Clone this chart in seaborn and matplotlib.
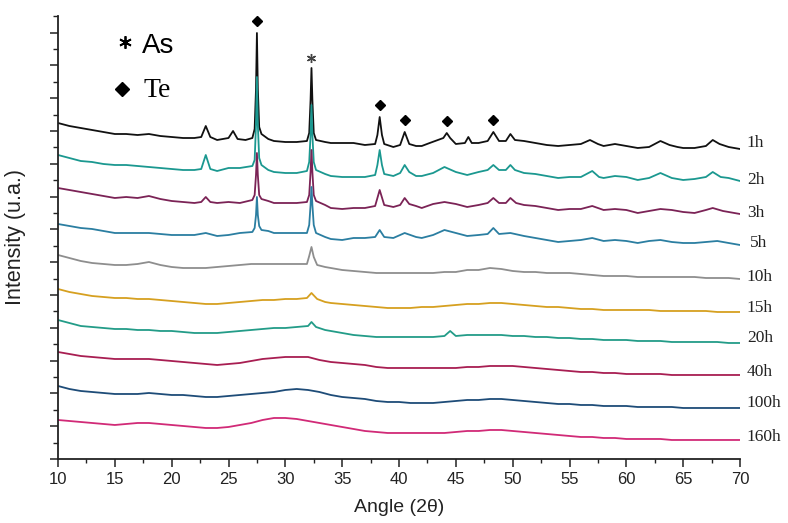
import numpy as np
import pandas as pd
import matplotlib
matplotlib.use("Agg")
import matplotlib.pyplot as plt
from matplotlib.ticker import MultipleLocator
import seaborn as sns

# ---- data (intensity in arbitrary units) ----
times = ["1h", "2h", "3h", "5h", "10h", "15h", "20h", "40h", "100h", "160h"]

angle_1h = [10, 11, 12, 13, 14, 15, 16, 17, 18, 19, 20, 21, 22, 22.6, 23, 23.4, 24, 25, 25.4, 25.8,
            26.5, 27.1, 27.3, 27.42, 27.5, 27.58, 27.7, 27.9, 28.5, 29, 30, 31, 31.9, 32.1, 32.22, 32.3,
            32.38, 32.5, 32.7, 33.5, 34, 35, 36, 37, 37.9, 38.1, 38.3, 38.5, 38.7, 39.5, 40.1, 40.5,
            40.9, 41.5, 42, 42.7, 43.9, 44.2, 44.5, 45, 45.8, 46.1, 46.4, 47, 47.8, 48.3, 48.8, 49.4,
            49.8, 50.2, 51, 52, 53, 54, 55, 56, 56.8, 57.5, 58, 59, 60, 61, 62, 63, 63.8, 64.5, 65, 66,
            67, 67.6, 68.2, 69, 70]
int_1h = [336, 333, 331, 329, 327, 325, 325, 324, 325, 323, 322, 321, 321, 322, 333, 322, 319, 321, 328, 320,
          319, 321, 330, 370, 426, 370, 332, 325, 320, 318, 317, 317, 318, 326, 359, 391,
          359, 326, 319, 317, 316, 316, 316, 314, 315, 324, 342, 324, 315, 312, 314, 327,
          315, 313, 313, 316, 321, 326, 321, 315, 316, 322, 316, 316, 318, 327, 318, 318,
          325, 319, 318, 316, 314, 313, 314, 315, 319, 315, 313, 315, 313, 311, 312, 318, 314, 312, 311, 311,
          313, 319, 315, 312, 310]

angle_2h = [10, 11, 12, 13, 14, 15, 16, 17, 18, 19, 20, 21, 22, 22.6, 23, 23.4, 24, 25, 26, 27.1,
            27.3, 27.42, 27.5, 27.58, 27.7, 27.9, 28.5, 29, 30, 31, 31.9, 32.1, 32.22, 32.3, 32.38,
            32.5, 32.7, 33.5, 34, 35, 36, 37, 37.9, 38.1, 38.3, 38.5, 38.7, 39.5, 40.1, 40.5, 40.9,
            41.5, 42, 43, 44, 45, 46, 47, 47.8, 48.3, 48.8, 49.4, 49.8, 50.2, 51, 52, 53, 54, 55, 56,
            57, 57.6, 58, 59, 60, 61, 62, 63, 64, 65, 66, 67, 67.6, 68.3, 69, 70]
int_2h = [304, 301, 298, 297, 295, 294, 294, 293, 292, 291, 290, 289, 289, 290, 304, 290, 288, 291, 291, 293,
          299, 334, 382, 334, 301, 294, 289, 287, 286, 286, 288, 297, 324, 354, 324,
          297, 289, 285, 283, 282, 282, 282, 284, 294, 309, 294, 285, 283, 286, 294, 287,
          283, 283, 286, 292, 287, 284, 287, 289, 294, 289, 289, 294, 289, 286, 285, 283, 281, 282, 282,
          288, 282, 281, 283, 282, 279, 281, 286, 281, 279, 280, 282, 287, 282, 281, 278]

angle_3h = [10, 11, 12, 13, 14, 15, 16, 17, 18, 19, 20, 21, 22, 22.6, 23, 23.4, 24, 25, 26, 27.1,
            27.3, 27.42, 27.5, 27.58, 27.7, 27.9, 28.5, 29, 30, 31, 31.9, 32.1, 32.22, 32.3, 32.38,
            32.5, 32.7, 33.5, 34, 35, 36, 37, 37.9, 38.3, 38.7, 39.5, 40.1, 40.5, 40.9, 41.5, 42, 43,
            44, 45, 46, 47, 47.8, 48.3, 48.8, 49.4, 49.8, 50.3, 51, 52, 53, 54, 55, 56, 57, 58, 59, 60,
            61, 62, 63, 64, 65, 66, 67, 67.6, 68.5, 69, 70]
int_3h = [271, 269, 267, 265, 263, 261, 262, 261, 263, 260, 258, 257, 256, 257, 262, 257, 256, 257, 256, 259,
          264, 284, 306, 284, 264, 260, 258, 256, 256, 256, 257, 264, 287, 309, 287,
          264, 258, 254, 251, 250, 251, 251, 253, 269, 254, 252, 254, 261, 255, 253, 251, 255,
          257, 255, 252, 254, 256, 261, 256, 256, 261, 256, 254, 253, 251, 249, 250, 250, 253, 249, 250, 249,
          246, 248, 250, 249, 247, 246, 249, 251, 248, 247, 245]

angle_5h = [10, 11, 12, 13, 14, 15, 16, 17, 18, 19, 20, 21, 22, 23, 24, 25, 26, 27.1, 27.3, 27.42,
            27.5, 27.58, 27.7, 27.9, 28.5, 29, 30, 31, 31.9, 32.1, 32.22, 32.3, 32.38, 32.5, 32.7,
            33.5, 34, 35, 36, 37, 37.9, 38.3, 38.7, 39.5, 40.5, 41.5, 42, 43, 44, 45, 46, 47, 47.8,
            48.3, 48.8, 49.8, 51, 52, 53, 54, 55, 56, 57, 58, 59, 60, 61, 62, 63, 64, 65, 66, 67, 68,
            69, 70]
int_5h = [235, 233, 231, 230, 228, 226, 226, 226, 226, 225, 224, 224, 224, 226, 223, 224, 226, 227, 231, 244,
          262, 244, 233, 229, 228, 226, 226, 226, 226, 234, 254, 272, 254, 234, 226,
          222, 220, 219, 221, 221, 222, 229, 222, 221, 226, 222, 221, 224, 229, 226, 223, 224, 225,
          231, 225, 226, 223, 221, 219, 217, 218, 219, 221, 218, 219, 218, 216, 218, 219, 217, 216, 216, 217, 218,
          216, 214]

angle_10h = [10, 11, 12, 13, 14, 15, 16, 17, 18, 19, 20, 21, 22, 23, 24, 25, 26, 27, 28, 29, 30, 31,
             31.9, 32.1, 32.3, 32.5, 32.8, 33.5, 34, 35, 36, 37, 38, 39, 40, 41, 42, 43, 44, 45, 46,
             47, 48, 49, 50, 51, 52, 53, 54, 55, 56, 57, 58, 59, 60, 61, 62, 63, 64, 65, 66, 67, 68,
             69, 70]
int_10h = [204, 201, 198, 196, 195, 194, 194, 195, 197, 194, 192, 191, 191, 191, 192, 193, 194, 195, 195, 195, 195, 195,
           195, 203, 212, 202, 194, 192, 191, 189, 188, 187, 186, 186, 186, 186, 186, 186, 187, 187, 189,
           189, 191, 190, 188, 187, 187, 186, 186, 186, 185, 184, 183, 183, 183, 182, 182, 182, 182, 182, 182, 181, 181,
           181, 180]

angle_15h = [10, 11, 12, 13, 14, 15, 16, 17, 18, 19, 20, 21, 22, 23, 24, 25, 26, 27, 28, 29, 30, 31,
             31.9, 32.3, 32.8, 33.5, 34, 35, 36, 37, 38, 39, 40, 41, 42, 43, 44, 45, 46, 47, 48, 49,
             50, 51, 52, 53, 54, 55, 56, 57, 58, 59, 60, 61, 62, 63, 64, 65, 66, 67, 68, 69, 70]
int_15h = [170, 167, 165, 163, 162, 161, 161, 160, 160, 159, 158, 157, 156, 155, 155, 156, 157, 158, 159, 159, 160, 160,
           161, 166, 160, 157, 156, 155, 154, 153, 152, 151, 151, 151, 152, 152, 153, 154, 155, 155, 156, 156,
           155, 154, 153, 152, 152, 151, 150, 150, 149, 149, 149, 149, 149, 148, 148, 148, 148, 148, 147, 147, 147]

angle_20h = [10, 11, 12, 13, 14, 15, 16, 17, 18, 19, 20, 21, 22, 23, 24, 25, 26, 27, 28, 29, 30, 31,
             32, 32.3, 32.7, 33.5, 34, 35, 36, 37, 38, 39, 40, 41, 42, 43, 44, 44.5, 45, 46, 47, 48,
             49, 50, 51, 52, 53, 54, 55, 56, 57, 58, 59, 60, 61, 62, 63, 64, 65, 66, 67, 68, 69, 70]
int_20h = [139, 136, 133, 132, 131, 130, 130, 129, 129, 128, 128, 127, 126, 126, 126, 127, 128, 129, 130, 131, 131, 132,
           133, 137, 132, 129, 128, 126, 124, 123, 122, 122, 122, 122, 122, 122, 123, 128, 123, 124, 124, 124,
           124, 123, 123, 122, 122, 121, 121, 120, 120, 119, 119, 119, 118, 118, 118, 117, 117, 117, 117, 117, 116, 116]

angle_grid = list(range(10, 71))
int_40h = [107, 105, 103, 102, 101, 100, 100, 100, 100, 99,
           98, 97, 96, 95, 94, 95, 96, 98, 100, 101,
           102, 102, 102, 99, 97, 96, 95, 94, 92, 91,
           91, 91, 91, 91, 91, 91, 92, 92, 93, 93,
           93, 92, 91, 90, 89, 88, 87, 87, 86, 86,
           85, 85, 85, 85, 84, 84, 84, 84, 84, 84, 84]
int_100h = [73, 70, 68, 67, 66, 65, 65, 65, 66, 65,
            64, 64, 63, 62, 62, 63, 64, 65, 66, 67,
            69, 70, 69, 67, 64, 62, 61, 60, 58, 57,
            57, 56, 56, 56, 57, 58, 59, 59, 60, 60,
            59, 58, 57, 56, 55, 55, 54, 54, 53, 53,
            53, 52, 52, 52, 52, 51, 51, 51, 51, 51, 51]
int_160h = [39, 38, 37, 36, 35, 34, 35, 36, 36, 35,
            34, 33, 32, 31, 31, 32, 34, 36, 39, 41,
            41, 40, 38, 36, 34, 32, 30, 28, 27, 26,
            26, 26, 26, 26, 26, 27, 28, 28, 29, 29,
            28, 27, 26, 25, 24, 23, 22, 22, 21, 21,
            20, 20, 20, 20, 19, 19, 19, 19, 19, 19, 19]

te_peaks = [27.5, 38.3, 40.5, 44.2, 48.3]
as_peaks = [32.3]
label_levels = [316, 279, 246, 216, 182, 151, 121, 87, 56, 22]

curves = {
    "1h": (angle_1h, int_1h), "2h": (angle_2h, int_2h), "3h": (angle_3h, int_3h),
    "5h": (angle_5h, int_5h), "10h": (angle_10h, int_10h), "15h": (angle_15h, int_15h),
    "20h": (angle_20h, int_20h), "40h": (angle_grid, int_40h), "100h": (angle_grid, int_100h),
    "160h": (angle_grid, int_160h),
}
rows = []
for t in times:
    for a, v in zip(*curves[t]):
        rows.append((t, a, v))
df = pd.DataFrame(rows, columns=["time", "angle", "intensity"])

colors = ["#111111", "#1b9890", "#7b2356", "#2b7ea1", "#8e8e8e",
          "#d6a020", "#239c88", "#a81e52", "#1e4c78", "#d12a77"]

sns.set_theme(style="ticks")
plt.rcParams["font.family"] = ["Liberation Sans", "DejaVu Sans"]

fig = plt.figure(figsize=(7.88, 5.23), dpi=100)
ax = fig.add_axes([0.0736, 0.1224, 0.8655, 0.847])

sns.lineplot(data=df, x="angle", y="intensity", hue="time", hue_order=times,
             palette=colors, estimator=None, sort=False, legend=False, linewidth=1.3, ax=ax)
# sharp peaks: round joins so the tips don't overshoot
for line in ax.lines:
    line.set_solid_joinstyle("round")

ax.set_xlim(10, 70)
ax.set_ylim(0, 443)
ax.xaxis.set_major_locator(MultipleLocator(5))
ax.xaxis.set_minor_locator(MultipleLocator(2.5))
ax.yaxis.set_major_locator(MultipleLocator(32.8))
ax.yaxis.set_minor_locator(MultipleLocator(16.4))
ax.set_yticklabels([])
ax.tick_params(axis="x", which="major", direction="out", length=5.5, width=1.1, labelsize=12, pad=4, colors="#222222")
ax.tick_params(axis="x", which="minor", direction="out", length=3, width=1.0, colors="#222222")
ax.tick_params(axis="y", which="major", direction="out", length=6, width=1.1, colors="#222222")
ax.tick_params(axis="y", which="minor", direction="out", length=3.5, width=1.0, colors="#222222")
for side in ["top", "right"]:
    ax.spines[side].set_visible(False)
for side in ["left", "bottom"]:
    ax.spines[side].set_linewidth(1.3)
    ax.spines[side].set_color("#222222")

ax.set_xlabel("Angle (2θ)", fontsize=14, color="#222222")
ax.set_ylabel("Intensity (u.a.)", fontsize=15.5, color="#222222")
ax.xaxis.set_label_coords(0.5, -0.09)
ax.yaxis.set_label_coords(-0.047, 0.5)

# curve labels at the right end
for t, lv in zip(times, label_levels):
    dx = 70.9 if t == "5h" else 70.6
    ax.text(dx, lv, t, fontsize=12.5, family="Liberation Serif", va="center", ha="left",
            color="#222222", clip_on=False)

# phase markers above the 1h peaks
te_y = np.interp(te_peaks, angle_1h, int_1h) + 12
as_y = np.interp(as_peaks, angle_1h, int_1h) + 10
ax.plot(te_peaks, te_y, linestyle="none", marker="D", markersize=4.8, color="black")
ax.plot(as_peaks, as_y, linestyle="none", marker=(6, 2, 0), markersize=6.5,
        markeredgewidth=1.0, color="#444444")

# phase key
ax.plot([15.9], [417], linestyle="none", marker=(6, 2, 0), markersize=9, markeredgewidth=1.3, color="black")
ax.text(17.4, 406, "As", fontsize=20, family="Liberation Sans", va="baseline", color="black")
ax.plot([15.65], [370], linestyle="none", marker="D", markersize=7.5, color="black")
ax.text(17.5, 362, "Te", fontsize=20, family="Liberation Serif", va="baseline", color="black")

fig.savefig("out.png", dpi=100)
